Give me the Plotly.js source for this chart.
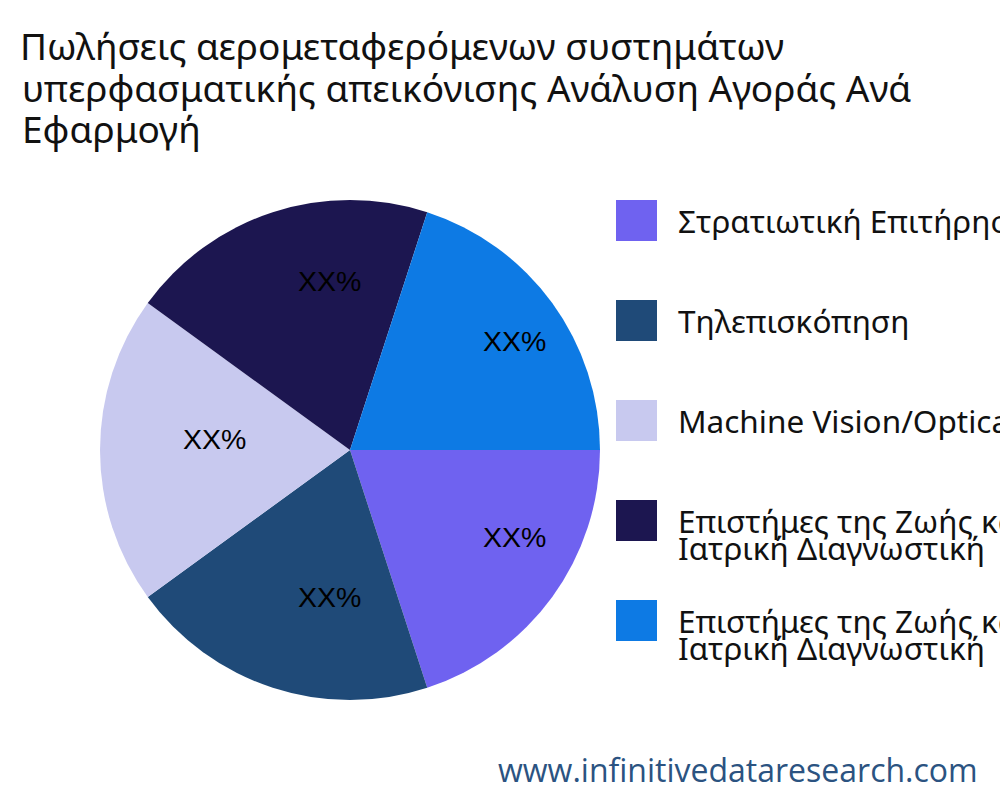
<!DOCTYPE html>
<html>
<head>
<meta charset="utf-8">
<script src="https://cdn.plot.ly/plotly-3.0.1.min.js"></script>
<style>html,body{margin:0;padding:0;background:#fff;}#chart{width:1000px;height:800px;}</style>
</head>
<body>
<div id="chart"></div>
<script>
const categories = [
  "Στρατιωτική Επιτήρηση",
  "Τηλεπισκόπηση",
  "Machine Vision/Optical Sorting",
  "Επιστήμες της Ζωής και<br>Ιατρική Διαγνωστική",
  "Επιστήμες της Ζωής και<br>Ιατρική Διαγνωστική"
];
const values = [20, 20, 20, 20, 20];
const sliceText = ["XX%", "XX%", "XX%", "XX%", "XX%"];
const colors = ["#6F62F0", "#1F4A78", "#C8C9EF", "#1C1650", "#0D7AE4"];
const titleLines = [
  "Πωλήσεις αερομεταφερόμενων συστημάτων",
  "υπερφασματικής απεικόνισης Ανάλυση Αγοράς Ανά",
  "Εφαρμογή"
];
const watermark = "www.infinitivedataresearch.com";

const W = 1000, H = 800;
const pieDomain = {x: [0.1, 0.6], y: [0.125, 0.75]};
const shapes = [], annotations = [];

// legend (colour squares + labels)
categories.forEach((c, i) => {
  const top = 200 + i * 100;
  shapes.push({type: "rect", xref: "paper", yref: "paper",
    x0: 616 / W, x1: 657 / W, y0: 1 - (top + 41) / H, y1: 1 - top / H,
    fillcolor: colors[i], line: {width: 0}});
  c.split("<br>").forEach((line, j) => {
    annotations.push({xref: "paper", yref: "paper", x: 676 / W, y: 1 - (top + 20 + j * 27) / H,
      xanchor: "left", yanchor: "middle", align: "left", showarrow: false,
      text: line, font: {family: "Noto Sans", size: 31.5, color: "#111"}});
  });
});

// slice labels: start at 2/3 of the radius on each slice's bisector
const cx = (pieDomain.x[0] + pieDomain.x[1]) / 2;
const cy = (pieDomain.y[0] + pieDomain.y[1]) / 2;
const radiusPx = Math.min((pieDomain.x[1] - pieDomain.x[0]) * W, (pieDomain.y[1] - pieDomain.y[0]) * H) / 2;
const total = values.reduce((a, b) => a + b, 0);
let cum = 0;
values.forEach((v, i) => {
  const theta = -((cum + v / 2) / total) * 2 * Math.PI; // clockwise from 3 o'clock
  cum += v;
  const r = radiusPx * 0.664;
  annotations.push({xref: "paper", yref: "paper",
    x: cx + (r * Math.cos(theta) - 3) / W,
    y: cy + (r * Math.sin(theta) + 11) / H,
    xanchor: "left", yanchor: "middle", showarrow: false, text: sliceText[i],
    font: {family: "Liberation Sans, Arial", size: 28.5, color: "#000"}});
});

titleLines.slice(1).forEach((line, j) => {
  annotations.push({xref: "paper", yref: "paper", x: 20 / W, y: 1 - (88 + j * 40.5) / H,
    xanchor: "left", yanchor: "middle", align: "left", showarrow: false,
    text: line, font: {family: "Noto Sans", size: 37, color: "#111"}});
});
annotations.push({xref: "paper", yref: "paper", x: 980 / W, y: 1 - 769 / H,
  xanchor: "right", yanchor: "middle", showarrow: false, text: watermark,
  font: {family: "Open Sans", size: 32, color: "#2B5381"}});

Plotly.newPlot("chart", [{
  type: "pie",
  labels: categories.map((c, i) => (i + 1) + ". " + c),
  values: values,
  textinfo: "none",
  marker: {colors: colors, line: {width: 0}},
  sort: false,
  direction: "clockwise",
  rotation: 90,
  domain: pieDomain,
  showlegend: false,
  hoverinfo: "none"
}], {
  width: W, height: H,
  margin: {l: 0, r: 0, t: 0, b: 0},
  paper_bgcolor: "#fff",
  title: {text: titleLines[0], x: 20 / W, xanchor: "left", xref: "paper",
    y: 1 - 47 / H, yanchor: "middle", yref: "container",
    font: {family: "Noto Sans", size: 37, color: "#111"}},
  shapes: shapes,
  annotations: annotations,
  showlegend: false
}, {staticPlot: true});
</script>
</body>
</html>
